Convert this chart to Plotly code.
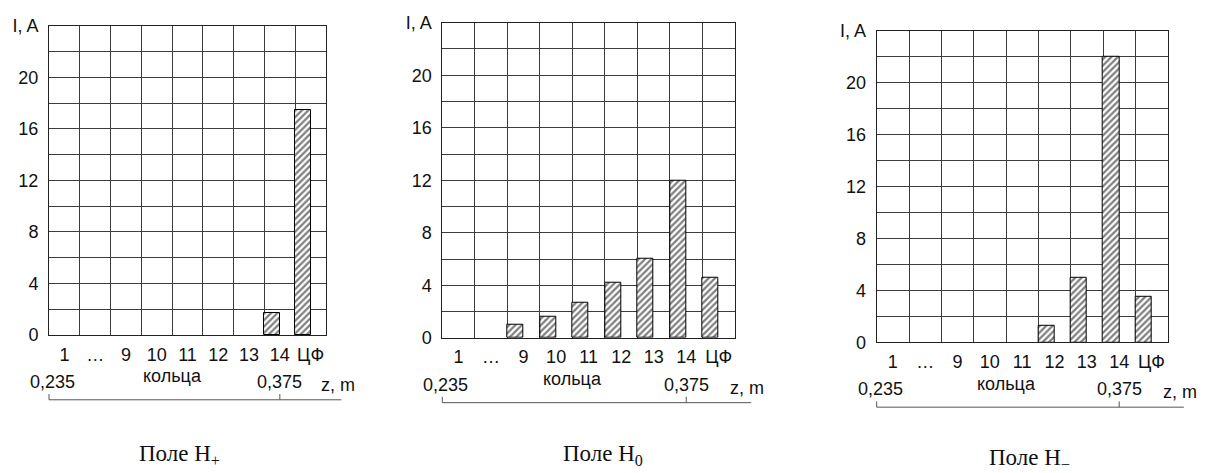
import plotly.graph_objects as go

W, H = 1216, 473

# ring categories along the bottom axis
rings = ["1", "…", "9", "10", "11", "12", "13", "14", "ЦФ"]

# ring currents I, A (None = no bar drawn)
current_h_plus = [None, None, None, None, None, None, None, 1.7, 17.5]
current_h_zero = [None, None, 1.0, 1.6, 2.7, 4.2, 6.0, 12.0, 4.6]
current_h_minus = [None, None, None, None, None, 1.3, 5.0, 22.0, 3.5]

panel_titles = ["Поле H<sub>+</sub>", "Поле H<sub>0</sub>", "Поле H<sub>−</sub>"]

y_tickvals = [0, 4, 8, 12, 16, 20, 24]
y_ticktext = ["0", "4", "8", "12", "16", "20", "I, A"]

z_labels = ["0,235", "0,375"]
z_title = "z, m"
ring_title = "кольца"

series = [current_h_plus, current_h_zero, current_h_minus]

# plot boxes in pixels: left, top, right, bottom
boxes = [
    (49, 16.7, 326, 339.3),
    (442.3, 13.3, 735, 342.3),
    (876.7, 21.7, 1167.7, 347),
]
caption_pos = [(179.5, 465), (603, 465), (1029, 469)]

SANS = "Liberation Sans, Arial, sans-serif"
SERIF = "Liberation Serif, Times New Roman, serif"
GRID = "#3c3c3c"
TXT = "#111"
FS = 18

def px_x(p):
    return p / W

def px_y(p):
    return 1 - p / H

fig = go.Figure()
shapes = []
annotations = []

for i, (vals, box, title, cap) in enumerate(zip(series, boxes, panel_titles, caption_pos)):
    n = i + 1
    xa = "x" if n == 1 else f"x{n}"
    ya = "y" if n == 1 else f"y{n}"
    left, top, right, bottom = box

    fig.add_trace(go.Bar(
        x=rings, y=vals, xaxis=xa, yaxis=ya,
        offset=-0.5, width=0.5,
        marker=dict(
            color="white",
            line=dict(color="black", width=1),
            pattern=dict(shape="/", fgcolor="black", bgcolor="white",
                         size=4.5, solidity=0.5),
        ),
        showlegend=False, hoverinfo="skip",
    ))

    xkey = "xaxis" if n == 1 else f"xaxis{n}"
    ykey = "yaxis" if n == 1 else f"yaxis{n}"
    fig.update_layout(**{
        xkey: dict(
            domain=[px_x(left), px_x(right)], anchor=ya,
            type="category", categoryorder="array", categoryarray=rings,
            range=[-0.5, 8.5], tickson="boundaries", tickangle=0,
            showgrid=True, gridcolor=GRID, gridwidth=1,
            showline=True, linecolor="#222", linewidth=1, mirror=True,
            ticks="", ticklabelstandoff=3,
            tickfont=dict(family=SANS, size=FS, color=TXT),
            fixedrange=True,
        ),
        ykey: dict(
            domain=[px_y(bottom), px_y(top)], anchor=xa,
            range=[0, 24], tickmode="array",
            tickvals=y_tickvals, ticktext=y_ticktext,
            showgrid=True, gridcolor=GRID, gridwidth=1, zeroline=False,
            minor=dict(dtick=2, tick0=0, showgrid=True, gridcolor=GRID, gridwidth=1, ticks=""),
            showline=True, linecolor="#222", linewidth=1, mirror=True,
            ticks="", ticklabelstandoff=6,
            tickfont=dict(family=SANS, size=FS, color=TXT),
            fixedrange=True,
        ),
    })

    col = (right - left) / 9.0

    def cx(c):
        # category coordinate -> pixel x
        return left + (c + 0.5) * col

    # z scale bracket under the ring axis
    line_y = bottom + 67.7
    x_start, x_tick, x_end = cx(-0.5), cx(7), cx(9.0)
    shapes.append(dict(type="line", xref="paper", yref="paper",
                       x0=px_x(x_start), x1=px_x(x_end),
                       y0=px_y(line_y), y1=px_y(line_y),
                       line=dict(color="#555", width=1)))
    for xt in (x_start, x_tick):
        shapes.append(dict(type="line", xref="paper", yref="paper",
                           x0=px_x(xt), x1=px_x(xt),
                           y0=px_y(line_y), y1=px_y(line_y - 6),
                           line=dict(color="#555", width=1)))

    for xt, lab in zip((x_start + 3.5, x_tick), z_labels):
        annotations.append(dict(text=lab, xref="paper", yref="paper",
                                x=px_x(xt), y=px_y(bottom + 49),
                                xanchor="center", yanchor="middle", showarrow=False,
                                font=dict(family=SANS, size=FS, color=TXT)))
    annotations.append(dict(text=z_title, xref="paper", yref="paper",
                            x=px_x(cx(8.88)), y=px_y(bottom + 52),
                            xanchor="center", yanchor="middle", showarrow=False,
                            font=dict(family=SANS, size=FS, color=TXT)))
    annotations.append(dict(text=ring_title, xref="paper", yref="paper",
                            x=px_x(cx(3.5)), y=px_y(bottom + 43),
                            xanchor="center", yanchor="middle", showarrow=False,
                            font=dict(family=SANS, size=FS, color=TXT)))
    annotations.append(dict(text=title, xref="paper", yref="paper",
                            x=px_x(cap[0]), y=px_y(cap[1]),
                            xanchor="center", yanchor="middle", showarrow=False,
                            font=dict(family=SERIF, size=23, color=TXT)))

fig.update_layout(
    width=W, height=H,
    margin=dict(l=0, r=0, t=0, b=0),
    paper_bgcolor="white", plot_bgcolor="white",
    shapes=shapes, annotations=annotations,
    bargap=0,
)

fig.write_html("out.html", config={"displayModeBar": False})
